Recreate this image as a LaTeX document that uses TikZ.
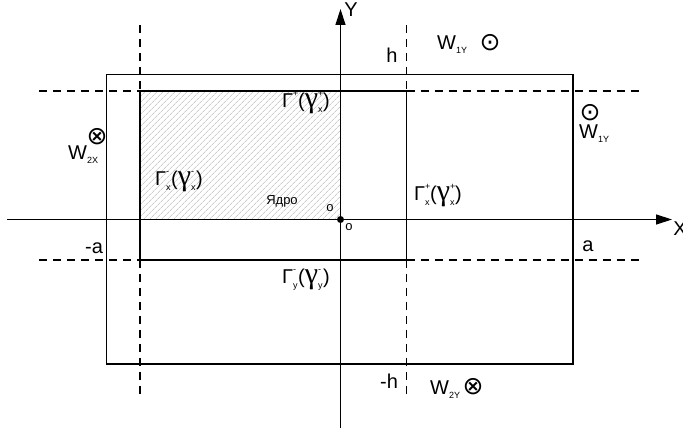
\documentclass[tikz,border=0pt]{standalone}
\usepackage{fontspec}
\setmainfont{Liberation Sans}
\newfontfamily\symfont{DejaVu Sans}
\newfontfamily\greekfont{Liberation Serif}
\usetikzlibrary{arrows.meta,patterns.meta}

\newcommand{\gsx}[2]{\makebox[0pt][l]{\raisebox{11pt}{\fontsize{9}{9}\selectfont#1}}\makebox[0pt][l]{\raisebox{-5pt}{\fontsize{9}{9}\selectfont#2}}\hspace{5pt}}
\newcommand{\gam}{{\greekfont\fontsize{30}{30}\selectfont γ}}
\newcommand{\wsub}[1]{\raisebox{-4pt}{\fontsize{9}{9}\selectfont#1}}

\begin{document}
\begin{tikzpicture}[x=1pt,y=-1pt,
    frame/.style={line width=1.3pt},
    guide/.style={line width=1.3pt,dash pattern=on 8pt off 6pt},
    axis/.style={line width=1.3pt,-{Triangle[length=16pt,width=10pt]}},
    lbl/.style={font=\fontsize{20}{22}\selectfont,inner sep=0pt},
    small/.style={font=\fontsize{13}{14}\selectfont,inner sep=0pt},
    flux/.style={font=\symfont\fontsize{25}{25}\selectfont,inner sep=0pt}]

\useasboundingbox (0,0) rectangle (683,430);

\fill[pattern={Lines[angle=45,distance=4pt,line width=0.6pt]},pattern color=gray!60]
  (140,91) rectangle (340.5,219.5);

\draw[frame] (106.5,74.5) rectangle (573,364);
\draw[frame] (140,91) rectangle (406.5,260);

\draw[guide] (140,25) -- (140,91) (140,260) -- (140,397);
\draw[guide] (406.5,25) -- (406.5,91) (406.5,260) -- (406.5,397);
\draw[guide] (39,91) -- (140,91) (406.5,91) -- (640,91);
\draw[guide] (39,260) -- (140,260) (406.5,260) -- (640,260);

\coordinate (x0) at (7,219.5);
\coordinate (x1) at (672,219.5);
\coordinate (y0) at (340.5,428);
\coordinate (y1) at (340.5,9);
\coordinate (o) at (340.5,219.5);
\draw[axis] (x0) -- (x1);
\draw[axis] (y0) -- (y1);
\fill (o) circle (3.5pt);

\node[lbl] (X) at (680,229) {X};
\node[lbl] (Y) at (351,10) {Y};
\node[lbl] (h) at (392,55) {h};
\node[lbl] (mh) at (389,381) {-h};
\node[lbl] (ma) at (94,248) {-a};
\node[lbl] (a) at (588,246) {a};
\node[small] (o1) at (330,208) {o};
\node[small] (o2) at (349,227) {o};
\node[small] (core) at (282,201) {Ядро};

\node[lbl,anchor=base west] (g1) at (282,108) {Γ\gsx{+}{}(\gam\gsx{+}{x})};
\node[lbl,anchor=base west] (g2) at (155,186) {Γ\gsx{-}{x}(\gam\gsx{-}{x})};
\node[lbl,anchor=base west] (g3) at (414,201) {Γ\gsx{+}{x}(\gam\gsx{+}{x})};
\node[lbl,anchor=base west] (g4) at (282,284) {Γ\gsx{-}{y}(\gam\gsx{-}{y})};

\node[lbl,anchor=base west] (w1) at (437,50) {W\wsub{1Y}};
\node[flux] (f1) at (490,43) {⊙};
\node[flux] (f2) at (590,113) {⊙};
\node[lbl,anchor=base west] (w2) at (579,139) {W\wsub{1Y}};
\node[flux] (f3) at (97,137) {⊗};
\node[lbl,anchor=base west] (w3) at (68,160) {W\wsub{2X}};
\node[lbl,anchor=base west] (w4) at (430,395) {W\wsub{2Y}};
\node[flux] (f4) at (473,387) {⊗};
\end{tikzpicture}
\end{document}
